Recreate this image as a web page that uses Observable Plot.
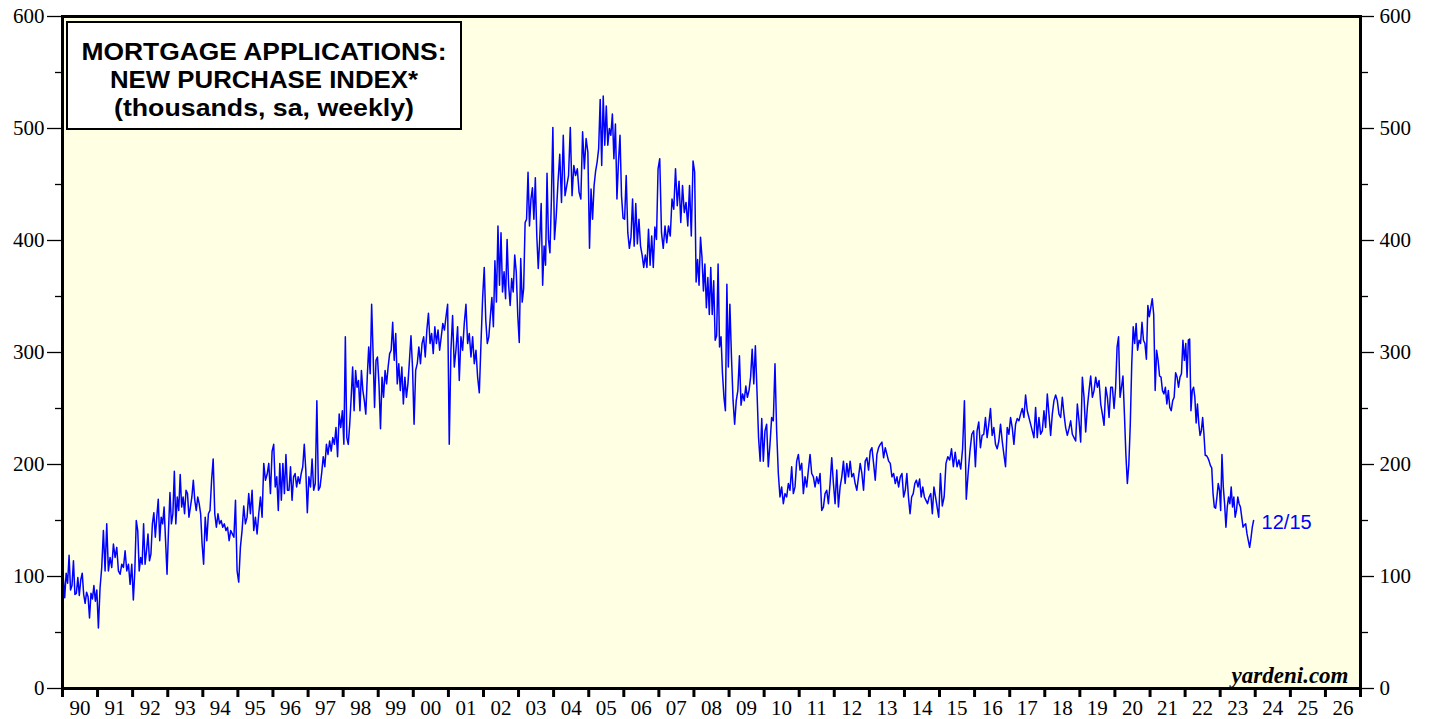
<!DOCTYPE html>
<html>
<head>
<meta charset="utf-8">
<script src="https://cdn.jsdelivr.net/npm/d3@7"></script>
<script src="https://cdn.jsdelivr.net/npm/@observablehq/plot@0.6"></script>
<style>
  html, body { margin: 0; padding: 0; background: #ffffff; }
  #chart svg { display: block; }
  #chart svg g[aria-label$="tick label"], #chart svg g[aria-label$="tick label"] text {
    font-family: "Liberation Serif", "Times New Roman", serif !important;
  }
</style>
</head>
<body>
<div id="chart"></div>
<script>
// Weekly-ish readings (thousands), evenly spaced within each year
const v1990 = [100, 81, 103, 94, 119, 88, 92, 114, 84, 85, 99, 83, 97, 103, 84, 76, 86, 82, 63, 85, 80, 92, 78, 88];
const v1991 = [54, 90, 108, 141, 105, 147, 105, 117, 108, 129, 117, 126, 105, 102, 111, 108, 123, 105, 111, 93, 111];
const v1992 = [79, 105, 150, 141, 105, 117, 111, 147, 111, 123, 138, 114, 120, 147, 157, 135, 153, 169, 132, 153, 147, 162, 132, 102];
const v1993 = [141, 175, 147, 156, 194, 147, 171, 159, 191, 162, 171, 156, 177, 174, 153, 162, 171, 186, 168, 159, 171, 165, 156, 129];
const v1994 = [111, 153, 132, 156, 159, 186, 205, 156, 144, 156, 147, 150, 144, 147, 141, 144, 132, 141, 138, 135, 168, 105];
const v1995 = [95, 126, 141, 163, 147, 153, 174, 156, 177, 141, 153, 138, 156, 171, 153, 201, 186, 191, 201, 174, 212];
const v1996 = [218, 180, 189, 159, 201, 168, 201, 174, 209, 177, 177, 198, 168, 189, 192, 180, 189, 183, 192, 198, 218, 195, 157];
const v1997 = [189, 180, 205, 177, 183, 257, 177, 180, 192, 207, 198, 218, 209, 221, 212, 224, 218, 233, 207, 245, 233, 248];
const v1998 = [218, 314, 224, 218, 236, 260, 287, 248, 284, 269, 275, 248, 284, 266, 257, 245, 278, 305, 281, 343, 299, 251, 293, 296];
const v1999 = [272, 232, 278, 260, 284, 272, 287, 299, 302, 327, 293, 317, 272, 290, 266, 287, 254, 278, 260, 272, 293, 315, 287];
const v2000 = [236, 284, 290, 305, 290, 308, 314, 296, 320, 335, 308, 317, 299, 323, 308, 320, 302, 314, 326, 320, 332, 343];
const v2001 = [218, 302, 333, 287, 302, 323, 275, 314, 302, 326, 343, 308, 317, 296, 314, 290, 302, 278, 264, 308, 349];
const v2002 = [376, 329, 308, 314, 332, 349, 323, 382, 345, 413, 360, 407, 354, 372, 348, 401, 360, 342, 366, 354, 387, 372, 333];
const v2003 = [309, 384, 345, 357, 416, 419, 461, 413, 437, 447, 419, 456, 404, 375, 401, 433, 360, 395, 378, 460, 401, 389, 437, 501];
const v2004 = [401, 422, 452, 477, 434, 494, 440, 449, 458, 501, 440, 467, 458, 464, 443, 437, 497, 464, 491, 479];
const v2005 = [393, 446, 419, 449, 462, 470, 482, 526, 467, 529, 485, 520, 485, 500, 494, 513, 473, 504, 437, 470, 494, 440, 420];
const v2006 = [419, 458, 407, 393, 403, 437, 395, 433, 397, 419, 395, 387, 376, 387, 376, 410, 378, 404, 376, 412, 401, 464];
const v2007 = [473, 407, 393, 413, 398, 413, 404, 437, 428, 464, 431, 453, 416, 449, 425, 434, 413, 449, 404, 471];
const v2008 = [461, 363, 383, 360, 403, 385, 355, 379, 340, 367, 334, 376, 334, 364, 311, 315, 379, 305, 314, 281, 260, 248, 361, 287];
const v2009 = [343, 296, 257, 236, 257, 266, 297, 253, 263, 257, 270, 260, 266, 278, 303, 272, 306, 266, 224, 203, 241, 203];
const v2010 = [230, 236, 198, 218, 242, 239, 290, 230, 192, 171, 180, 165, 174, 171, 183, 177, 198, 174, 180, 203, 209];
const v2011 = [195, 201, 174, 189, 180, 195, 209, 192, 189, 180, 189, 183, 192, 159, 162, 174, 177, 165, 183, 206, 183];
const v2012 = [165, 195, 162, 180, 189, 203, 183, 201, 189, 203, 189, 192, 183, 177, 189, 201, 192, 177, 203, 206, 195];
const v2013 = [212, 215, 201, 186, 209, 215, 218, 220, 206, 215, 209, 203, 201, 189, 192, 183, 189, 180, 189, 192, 171];
const v2014 = [177, 192, 171, 156, 171, 174, 183, 186, 180, 187, 171, 180, 171, 168, 165, 171, 174, 156, 180, 171, 162, 153];
const v2015 = [192, 163, 171, 201, 207, 204, 214, 198, 211, 198, 204, 196, 214, 257, 169, 192, 212, 227, 230];
const v2016 = [198, 230, 238, 215, 226, 227, 242, 224, 236, 250, 226, 233, 218, 214, 221, 236, 221, 209, 198, 233, 227];
const v2017 = [242, 233, 218, 236, 241, 239, 245, 250, 242, 262, 248, 242, 236, 230, 224, 251, 224, 242, 227, 230, 248];
const v2018 = [233, 263, 245, 226, 245, 257, 262, 257, 245, 242, 260, 245, 233, 226, 232, 239, 227, 224, 221, 254, 239];
const v2019 = [220, 278, 260, 229, 251, 266, 279, 260, 266, 278, 269, 275, 254, 245, 235, 269, 260, 242, 269, 269, 250];
const v2020 = [269, 305, 314, 260, 269, 279, 245, 209, 183, 200, 236, 290, 323, 308, 326, 302, 311, 308, 327, 311, 308, 294, 342, 332];
const v2021 = [340, 348, 334, 266, 302, 293, 279, 278, 266, 263, 269, 254, 266, 251, 248, 257, 260, 282, 278, 269, 278, 281, 311, 293];
const v2022 = [308, 278, 311, 312, 248, 266, 269, 260, 237, 254, 237, 226, 230, 242, 227, 208, 208, 206, 203, 199, 197, 174, 162, 161, 171, 183, 177];
const v2023 = [159, 209, 180, 165, 144, 162, 171, 165, 180, 162, 171, 153, 159, 171, 165, 162, 153, 144, 146, 147, 138, 132, 126, 134, 144, 150];

const seriesByYear = [
  [1990, v1990], [1991, v1991], [1992, v1992], [1993, v1993], [1994, v1994],
  [1995, v1995], [1996, v1996], [1997, v1997], [1998, v1998], [1999, v1999],
  [2000, v2000], [2001, v2001], [2002, v2002], [2003, v2003], [2004, v2004],
  [2005, v2005], [2006, v2006], [2007, v2007], [2008, v2008], [2009, v2009],
  [2010, v2010], [2011, v2011], [2012, v2012], [2013, v2013], [2014, v2014],
  [2015, v2015], [2016, v2016], [2017, v2017], [2018, v2018], [2019, v2019],
  [2020, v2020], [2021, v2021], [2022, v2022], [2023, v2023]
];
const lastDate = "2023-12-15";
const lastLabel = "12/15";

const yMajor = [0, 100, 200, 300, 400, 500, 600];
const yMinor = [50, 150, 250, 350, 450, 550];
const xLabels = ["90","91","92","93","94","95","96","97","98","99","00","01","02","03","04","05","06","07","08","09","10","11","12","13","14","15","16","17","18","19","20","21","22","23","24","25","26"];
const titleLines = ["MORTGAGE APPLICATIONS:", "NEW PURCHASE INDEX*", "(thousands, sa, weekly)"];
const creditText = "yardeni.com";

// Build table
const lastYear = seriesByYear[seriesByYear.length - 1][0];
const data = seriesByYear.flatMap(([yr, arr]) => arr.map((v, i) => {
  let t;
  if (yr === lastYear) {
    const s = Date.UTC(yr, 0, 6), e = new Date(lastDate + "T00:00:00Z").getTime();
    t = s + (e - s) * i / (arr.length - 1);
  } else {
    const s = Date.UTC(yr, 0, 1), e = Date.UTC(yr + 1, 0, 1);
    t = s + (e - s) * (i + 0.5) / arr.length;
  }
  return {date: new Date(t), value: v};
}));
const last = data[data.length - 1];

const firstYear = 1990;
const yearStarts = d3.range(firstYear, firstYear + xLabels.length + 1).map(y => new Date(Date.UTC(y, 0, 1)));
const yearMids = xLabels.map((lab, i) => new Date(Date.UTC(firstYear + i, 6, 2)));
const labelByTime = new Map(yearMids.map((d, i) => [d.getTime(), xLabels[i]]));

const serif = "Liberation Serif, Times New Roman, serif";
const sans = "Liberation Sans, Arial, sans-serif";

const chart = Plot.plot({
  width: 1429,
  height: 719,
  marginLeft: 62,
  marginRight: 69,
  marginTop: 16,
  marginBottom: 31,
  style: {fontFamily: serif, background: "#ffffff", color: "#000"},
  x: {type: "utc", domain: [yearStarts[0], yearStarts[yearStarts.length - 1]]},
  y: {domain: [0, 600]},
  marks: [
    Plot.frame({fill: "#ffffe4", stroke: null}),
    Plot.line(data, {x: "date", y: "value", stroke: "#0000ff", strokeWidth: 1.5}),
    Plot.text([last], {x: "date", y: "value", text: () => lastLabel, dx: 8, dy: 2, textAnchor: "start", fill: "#0000ff", fontSize: 20, fontFamily: sans}),
    Plot.text([creditText], {frameAnchor: "bottom-right", text: d => d, dx: -12, dy: -6, fontSize: 23, fontStyle: "italic", fontWeight: "bold", fontFamily: serif, fill: "#000"}),
    Plot.frame({stroke: "#000", strokeWidth: 3}),
    Plot.axisY({anchor: "left", ticks: yMajor, tickSize: 15, tickPadding: 3, fontSize: 21, fontFamily: serif, label: null, strokeWidth: 1.3}),
    Plot.axisY({anchor: "left", ticks: yMinor, tickSize: 7, tickFormat: () => "", label: null, strokeWidth: 1.3}),
    Plot.axisY({anchor: "right", ticks: yMajor, tickSize: 13, tickPadding: 6, fontSize: 21, fontFamily: serif, label: null, strokeWidth: 1.3}),
    Plot.axisY({anchor: "right", ticks: yMinor, tickSize: 7, tickFormat: () => "", label: null, strokeWidth: 1.3}),
    Plot.axisX({ticks: yearStarts, tickSize: 9, tickFormat: () => "", label: null, strokeWidth: 3}),
    Plot.axisX({ticks: yearMids, tickSize: 0, tickPadding: 12, tickFormat: d => labelByTime.get(d.getTime()), fontSize: 21, fontFamily: serif, label: null})
  ]
});

// Force serif on tick labels
d3.select(chart).selectAll('g[aria-label$="tick label"]').attr("font-family", serif)
  .selectAll("text").attr("font-family", serif);

// Title box annotation
const titleWidths = [365, 308, 300];
const svg = d3.select(chart);
const g = svg.append("g");
g.append("rect").attr("x", 67).attr("y", 22).attr("width", 394).attr("height", 107)
  .attr("fill", "#ffffff").attr("stroke", "#000").attr("stroke-width", 2);
titleLines.forEach((line, i) => {
  g.append("text").attr("x", 264).attr("y", 60 + i * 28)
    .attr("text-anchor", "middle").attr("font-family", sans).attr("font-weight", "bold")
    .attr("font-size", 24).attr("fill", "#000")
    .attr("textLength", titleWidths[i]).attr("lengthAdjust", "spacingAndGlyphs")
    .text(line);
});

document.getElementById("chart").appendChild(chart);
</script>
</body>
</html>
